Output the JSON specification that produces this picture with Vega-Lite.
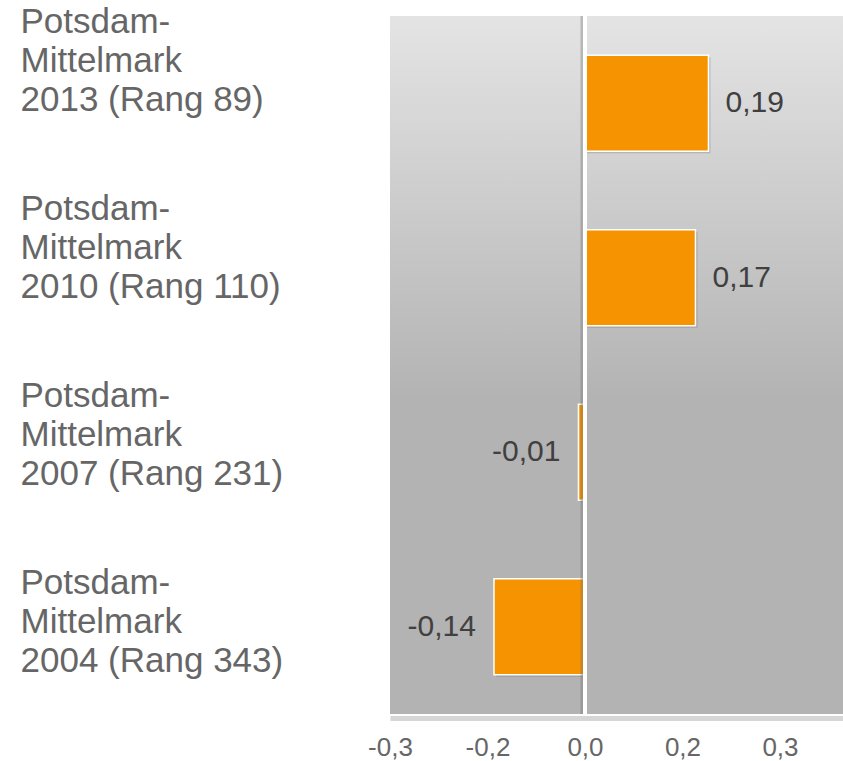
{
  "$schema": "https://vega.github.io/schema/vega-lite/v6.json",
  "width": 453,
  "height": 698,
  "autosize": {"type": "none"},
  "padding": {"left": 390, "top": 16, "right": 0, "bottom": 47},
  "background": "white",
  "config": {
    "font": "Liberation Sans",
    "locale": {"number": {"decimal": ",", "thousands": ".", "grouping": [3], "currency": ["", " €"], "minus": "-"}},
    "view": {"stroke": null}
  },
  "view": {
    "stroke": null,
    "fill": {
      "gradient": "linear", "x1": 0, "y1": 0, "x2": 0, "y2": 1,
      "stops": [
        {"offset": 0, "color": "#e4e4e4"},
        {"offset": 0.55, "color": "#b3b3b3"},
        {"offset": 1, "color": "#b3b3b3"}
      ]
    }
  },
  "data": {
    "values": [
      {"label": "Potsdam-|Mittelmark|2013 (Rang 89)", "value": 0.19},
      {"label": "Potsdam-|Mittelmark|2010 (Rang 110)", "value": 0.17},
      {"label": "Potsdam-|Mittelmark|2007 (Rang 231)", "value": -0.01},
      {"label": "Potsdam-|Mittelmark|2004 (Rang 343)", "value": -0.14}
    ]
  },
  "layer": [
    {
      "encoding": {
        "x": {
          "field": "value", "type": "quantitative",
          "scale": {"domain": [-0.3, 0.397], "nice": false, "zero": false},
          "axis": {
            "title": null, "grid": false,
            "values": [-0.3, -0.15, 0, 0.15, 0.3],
            "labelExpr": "datum.value < -0.2 ? '-0,3' : datum.value < -0.1 ? '-0,2' : datum.value < 0.1 ? '0,0' : datum.value < 0.2 ? '0,2' : '0,3'",
            "offset": 4,
            "domainColor": "#d6d6d6", "domainWidth": 5,
            "tickColor": "white", "tickWidth": 4, "tickSize": 6,
            "labelFontSize": 26, "labelColor": "#666666", "labelPadding": 10,
            "labelFlush": false, "labelOverlap": false
          }
        },
        "y": {
          "field": "label", "type": "nominal", "sort": null,
          "scale": {"paddingInner": 0.45, "paddingOuter": 0.225},
          "axis": null
        }
      },
      "layer": [
        {
          "mark": {"type": "bar", "color": "#5a5a5a", "opacity": 0.25, "xOffset": 2, "yOffset": 2}
        },
        {
          "mark": {"type": "bar", "color": "#f59400", "stroke": "white", "strokeWidth": 1.5}
        },
        {
          "transform": [{"filter": "datum.value > 0"}],
          "mark": {"type": "text", "align": "left", "baseline": "middle", "dx": 17, "fontSize": 30, "color": "#404040"},
          "encoding": {"text": {"field": "value", "type": "quantitative", "format": ".2f"}}
        },
        {
          "transform": [{"filter": "datum.value < 0"}],
          "mark": {"type": "text", "align": "right", "baseline": "middle", "dx": -18, "fontSize": 30, "color": "#404040"},
          "encoding": {"text": {"field": "value", "type": "quantitative", "format": ".2f"}}
        },
        {
          "data": {"values": [{"z": 0}]},
          "mark": {"type": "rule", "color": "#6a6a6a", "opacity": 0.35, "strokeWidth": 3, "xOffset": -3},
          "encoding": {"x": {"field": "z", "type": "quantitative"}, "y": null}
        },
        {
          "data": {"values": [{"z": 0}]},
          "mark": {"type": "rule", "color": "white", "strokeWidth": 4},
          "encoding": {"x": {"field": "z", "type": "quantitative"}, "y": null}
        }
      ]
    },
    {
      "mark": {"type": "point", "opacity": 0},
      "encoding": {
        "y": {
          "field": "label", "type": "nominal", "sort": null,
          "scale": {"type": "point", "padding": 0.366},
          "axis": {
            "title": null, "domain": false, "ticks": false, "grid": false,
            "orient": "left",
            "labelAlign": "left", "labelBaseline": "middle",
            "labelPadding": 370, "labelLimit": 0, "labelOverlap": false,
            "labelExpr": "split(datum.label, '|')",
            "labelFontSize": 35, "labelLineHeight": 39, "labelColor": "#666666",
            "labelOffset": -63
          }
        }
      }
    }
  ],
  "resolve": {"scale": {"y": "independent"}}
}
